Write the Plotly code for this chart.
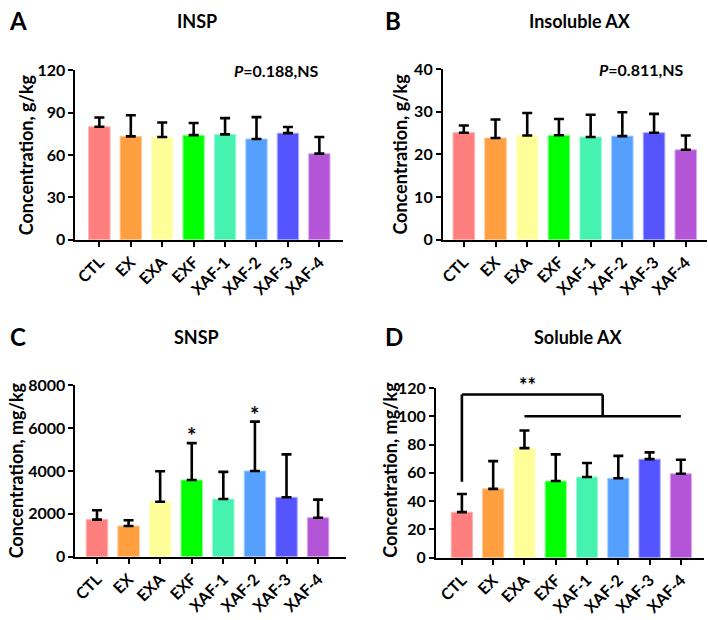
import plotly.graph_objects as go

categories = ["CTL", "EX", "EXA", "EXF", "XAF-1", "XAF-2", "XAF-3", "XAF-4"]
colors = ["#FF7F7F", "#FF9F40", "#FFFF99", "#00FF00", "#45F2B0", "#55A0FF", "#5555FF", "#B455D8"]
edge_colors = ["#FFB0B0", "#FFC890", "#FFFFCC", "#90FF90", "#A0F8D8", "#A8D0FF", "#AAAAFF", "#DDAAF0"]

insp_mean = [79.9, 73.1, 72.7, 74.0, 74.5, 71.3, 75.4, 60.9]
insp_err = [6.6, 15.0, 10.2, 8.6, 11.5, 15.4, 4.3, 11.8]
iax_mean = [25.1, 23.85, 24.45, 24.5, 24.1, 24.3, 25.1, 21.1]
iax_err = [1.7, 4.35, 5.25, 3.8, 5.2, 5.6, 4.4, 3.35]
snsp_mean = [1730, 1430, 2560, 3580, 2690, 4000, 2770, 1820]
snsp_err = [435, 270, 1425, 1715, 1265, 2300, 2000, 840]
sax_mean = [32.2, 48.7, 77.5, 54.2, 57.1, 56.2, 69.7, 59.4]
sax_err = [12.8, 19.6, 12.5, 18.9, 9.9, 15.8, 4.8, 9.9]

snsp_stars = ["EXF", "XAF-2"]
sax_bracket_ref = "CTL"
sax_bracket_group = ["EXA", "EXF", "XAF-1", "XAF-2", "XAF-3", "XAF-4"]
sax_bracket_levels = [115.4, 100.0, 53.7]

W, H = 708, 620
FONT = "Lato"

panels = [
    dict(letter="A", title="INSP", mean=insp_mean, err=insp_err, ymax=120, dtick=30,
         ytitle="Concentration, g/kg", px_x=(71, 340), px_y=(62, 237), xr=(-0.76, 7.74),
         ptext="<i>P</i>=0.188,NS", pxy=(273, 62), letter_xy=(2, 11), title_xy=(193, 11),
         ytitle_xy=(22, 149)),
    dict(letter="B", title="Insoluble AX", mean=iax_mean, err=iax_err, ymax=40, dtick=10,
         ytitle="Concentration, g/kg", px_x=(441, 707), px_y=(61, 237), xr=(-0.66, 7.67),
         ptext="<i>P</i>=0.811,NS", pxy=(641, 61), letter_xy=(381, 11), title_xy=(579, 11),
         ytitle_xy=(398, 149)),
    dict(letter="C", title="SNSP", mean=snsp_mean, err=snsp_err, ymax=8000, dtick=2000,
         ytitle="Concentration, mg/kg", px_x=(71, 343), px_y=(387, 564), xr=(-0.68, 7.87),
         ptext=None, pxy=None, letter_xy=(3, 337), title_xy=(193, 337),
         ytitle_xy=(12, 475)),
    dict(letter="D", title="Soluble AX", mean=sax_mean, err=sax_err, ymax=120, dtick=20,
         ytitle="Concentration, mg/kg", px_x=(434, 704), px_y=(390, 565), xr=(-0.83, 7.74),
         ptext=None, pxy=None, letter_xy=(381, 337), title_xy=(577, 337),
         ytitle_xy=(388, 474)),
]

fig = go.Figure()
annotations = []
shapes = []

def px2paper_x(x):
    return x / W

def px2paper_y(y):
    return 1 - y / H

for i, p in enumerate(panels, start=1):
    xa = "x" if i == 1 else f"x{i}"
    ya = "y" if i == 1 else f"y{i}"
    fig.add_trace(go.Bar(
        x=categories, y=p["mean"], xaxis=xa, yaxis=ya,
        marker=dict(color=colors, line=dict(color=edge_colors, width=1)),
        error_y=dict(type="data", array=p["err"], arrayminus=[0] * len(categories),
                     symmetric=False, color="black", thickness=2.6, width=5),
        showlegend=False, hoverinfo="skip",
    ))
    common_x = dict(
        domain=[px2paper_x(p["px_x"][0]), px2paper_x(p["px_x"][1])],
        range=list(p["xr"]), type="category", anchor=ya,
        showline=True, linecolor="black", linewidth=2,
        ticks="outside", ticklen=5, tickwidth=2, tickcolor="black",
        tickangle=-45, tickfont=dict(family=FONT, size=16, color="black", weight="bold"),
        showgrid=False, zeroline=False,
    )
    common_y = dict(
        domain=[px2paper_y(p["px_y"][1]), px2paper_y(p["px_y"][0])],
        range=[0, p["ymax"]], dtick=p["dtick"], anchor=xa,
        showline=True, linecolor="black", linewidth=2,
        ticks="outside", ticklen=5, tickwidth=2, tickcolor="black",
        tickfont=dict(family=FONT, size=16, color="black", weight="bold"),
        showgrid=False, zeroline=False,
    )
    fig.layout["xaxis" if i == 1 else f"xaxis{i}"] = common_x
    fig.layout["yaxis" if i == 1 else f"yaxis{i}"] = common_y

    annotations.append(dict(text=p["letter"], xref="paper", yref="paper",
                            x=px2paper_x(p["letter_xy"][0]), y=px2paper_y(p["letter_xy"][1]),
                            xanchor="left", yanchor="middle", showarrow=False,
                            font=dict(family=FONT, size=24, color="black", weight="bold")))
    annotations.append(dict(text=p["title"], xref="paper", yref="paper",
                            x=px2paper_x(p["title_xy"][0]), y=px2paper_y(p["title_xy"][1]),
                            xanchor="center", yanchor="middle", showarrow=False,
                            font=dict(family=FONT, size=18, color="black", weight="bold")))
    annotations.append(dict(text=p["ytitle"], xref="paper", yref="paper", textangle=-90,
                            x=px2paper_x(p["ytitle_xy"][0]), y=px2paper_y(p["ytitle_xy"][1]),
                            xanchor="center", yanchor="middle", showarrow=False,
                            font=dict(family=FONT, size=18, color="black", weight="bold")))
    if p["ptext"]:
        annotations.append(dict(text=p["ptext"], xref="paper", yref="paper",
                                x=px2paper_x(p["pxy"][0]), y=px2paper_y(p["pxy"][1]),
                                xanchor="center", yanchor="middle", showarrow=False,
                                font=dict(family=FONT, size=16, color="black", weight="bold")))

# significance stars on SNSP
for c in snsp_stars:
    k = categories.index(c)
    annotations.append(dict(text="*", xref="x3", yref="y3", x=c,
                            y=snsp_mean[k] + snsp_err[k], yanchor="bottom", yshift=-8,
                            showarrow=False,
                            font=dict(family=FONT, size=22, color="black", weight="bold")))

# bracket on Soluble AX
ref_i = categories.index(sax_bracket_ref)
g0 = categories.index(sax_bracket_group[0])
g1 = categories.index(sax_bracket_group[-1])
mid = (g0 + g1) / 2
top, low, refbot = sax_bracket_levels
line = dict(color="black", width=2.6)
for (x0, y0, x1, y1) in [(ref_i, refbot, ref_i, top), (ref_i, top, mid, top),
                         (mid, top, mid, low), (g0, low, g1, low)]:
    shapes.append(dict(type="line", xref="x4", yref="y4", x0=x0, y0=y0, x1=x1, y1=y1,
                       line=line, layer="above"))
annotations.append(dict(text="**", xref="x4", yref="y4", x=g0 + 0.1, y=top,
                        yanchor="bottom", yshift=-4, showarrow=False,
                        font=dict(family=FONT, size=20, color="black", weight="bold")))

fig.update_layout(
    width=W, height=H, margin=dict(l=0, r=0, t=0, b=0),
    paper_bgcolor="white", plot_bgcolor="white",
    bargap=0.32, showlegend=False,
    annotations=annotations, shapes=shapes,
    font=dict(family=FONT, color="black"),
)

fig.write_html("out.html", config={"displayModeBar": False},
               post_script="document.body.style.margin='0px';")
